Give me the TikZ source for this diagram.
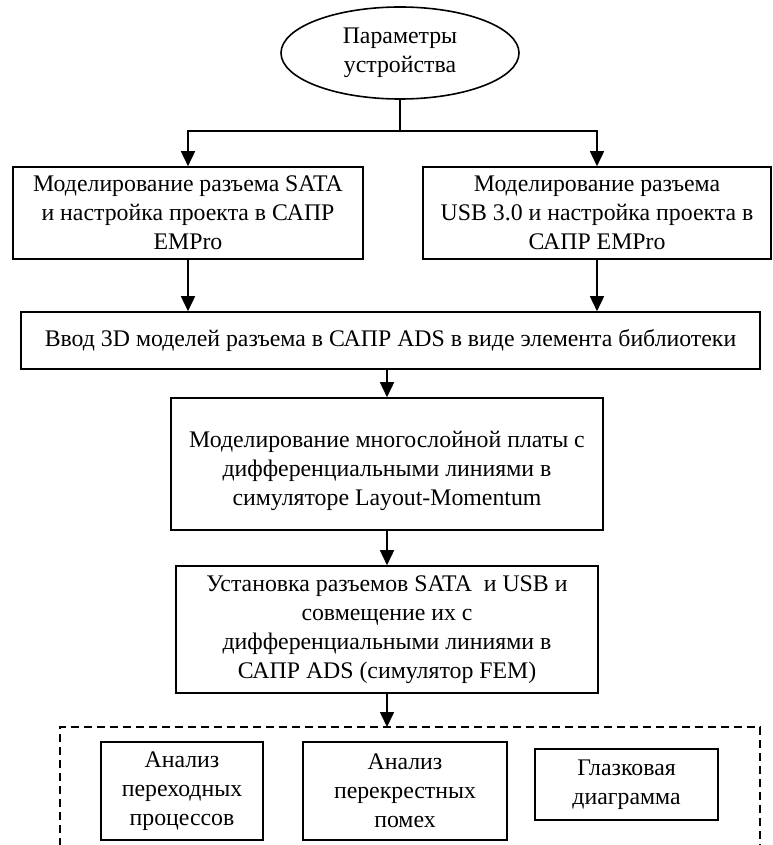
\documentclass[tikz,border=0pt]{standalone}
\usepackage{fontspec}
\setmainfont{Liberation Serif}
\usetikzlibrary{arrows.meta,shapes.geometric}
\begin{document}
\begin{tikzpicture}[x=1pt,y=-1pt,
  every node/.style={font=\fontsize{23.8}{29}\selectfont, align=center, inner sep=0pt},
  box/.style={draw, line width=1.6pt, rectangle},
  oval/.style={draw, line width=1.6pt, ellipse},
  conn/.style={line width=1.6pt},
  arr/.style={line width=1.6pt, -{Triangle[length=15pt,width=14pt]}},
  dashbox/.style={line width=1.6pt, dash pattern=on 8pt off 5pt}]
\useasboundingbox (0,0) rectangle (772,845);
\node[oval, minimum width=238pt, minimum height=92pt] (ell) at (400,53) {Параметры\\устройства};
\node[box, minimum width=350pt, minimum height=92pt] (b1) at (188,213) {Моделирование разъема SATA\\и настройка проекта в САПР\\EMPro};
\node[box, minimum width=348pt, minimum height=92pt] (b2) at (597,213) {Моделирование разъема\\USB 3.0 и настройка проекта в\\САПР EMPro};
\node[box, minimum width=739pt, minimum height=57pt] (b3) at (390.5,340.5) {Ввод 3D моделей разъема в САПР ADS в виде элемента библиотеки};
\node[box, minimum width=432pt, minimum height=132pt] (b4) at (387,464) {};
\node (t4) at (387,471) {Моделирование многослойной платы с\\дифференциальными линиями в\\симуляторе Layout-Momentum};
\node[box, minimum width=422pt, minimum height=127pt] (b5) at (387,629.5) {Установка разъемов SATA\ \ и USB и\\совмещение их с\\дифференциальными линиями в\\САПР ADS (симулятор FEM)};
\node[box, minimum width=162pt, minimum height=98pt] (bA) at (182,791) {Анализ\\переходных\\процессов};
\node[box, minimum width=204pt, minimum height=98pt] (bB) at (405,791) {Анализ\\перекрестных\\помех};
\node[box, minimum width=183pt, minimum height=71pt] (bC) at (626.5,784.5) {Глазковая\\диаграмма};
\coordinate (split) at (400,131);
\coordinate (dtop) at (387,727);
\coordinate (dl) at (60,727);
\coordinate (dr) at (760,727);
\coordinate (dlb) at (60,846);
\coordinate (drb) at (760,846);
\draw[conn] (ell.south) -- (split);
\draw[arr] (split) -| (b1.north);
\draw[arr] (split) -| (b2.north);
\draw[arr] (b1.south) -- (b1.south |- b3.north);
\draw[arr] (b2.south) -- (b2.south |- b3.north);
\draw[arr] (b3.south -| b4.north) -- (b4.north);
\draw[arr] (b4.south) -- (b5.north);
\draw[arr] (b5.south) -- (dtop);
\draw[dashbox] (dlb) -- (dl) -- (dr) -- (drb);
\end{tikzpicture}
\end{document}
